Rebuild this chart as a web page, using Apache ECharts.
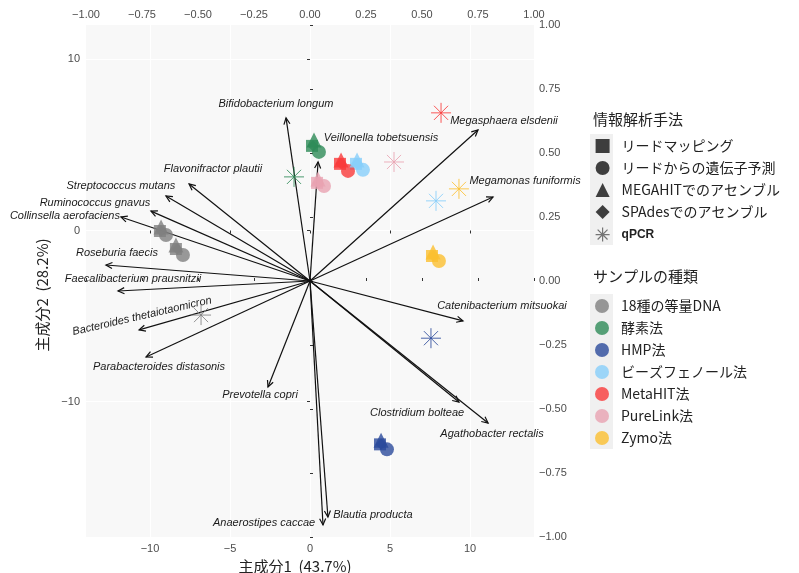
<!DOCTYPE html>
<html><head><meta charset="utf-8">
<script src="https://cdn.jsdelivr.net/npm/echarts@6/dist/echarts.min.js"></script>
<style>html,body{margin:0;padding:0;background:#fff}#c{width:799px;height:573px}</style>
</head><body><div id="c"></div><script>
// ---- species loadings (secondary axes) ----
const speciesNames = ['Bifidobacterium longum','Veillonella tobetsuensis','Flavonifractor plautii','Streptococcus mutans','Ruminococcus gnavus','Collinsella aerofaciens','Roseburia faecis','Faecalibacterium prausnitzii','Bacteroides thetaiotaomicron','Parabacteroides distasonis','Prevotella copri','Anaerostipes caccae','Blautia producta','Megasphaera elsdenii','Megamonas funiformis','Catenibacterium mitsuokai','Clostridium bolteae','Agathobacter rectalis'];
const loadingPC1 = [-0.107,0.036,-0.540,-0.643,-0.710,-0.844,-0.911,-0.857,-0.763,-0.732,-0.1875,0.058,0.080,0.750,0.817,0.683,0.665,0.795];
const loadingPC2 = [0.637,0.465,0.379,0.332,0.273,0.250,0.0625,-0.039,-0.191,-0.297,-0.414,-0.953,-0.922,0.590,0.328,-0.156,-0.473,-0.555];
const labelPC1 = [-0.152,0.317,-0.433,-0.844,-0.960,-1.094,-0.862,-0.790,-0.750,-0.674,-0.223,-0.205,0.281,0.866,0.960,0.857,0.478,0.8125];
const labelPC2 = [0.691,0.559,0.4375,0.371,0.305,0.254,0.109,0.008,-0.137,-0.336,-0.445,-0.945,-0.914,0.625,0.390,-0.098,-0.516,-0.598];
const labelAngle = [0,0,0,0,0,0,0,0,13,0,0,0,0,0,0,0,0,0];

// ---- legend categories ----
const methods = ['リードマッピング','リードからの遺伝子予測','MEGAHITでのアセンブル','SPAdesでのアセンブル','qPCR'];
const samples = ['18種の等量DNA','酵素法','HMP法','ビーズフェノール法','MetaHIT法','PureLink法','Zymo法'];
const sampleColors = ['#808080','#2e8b57','#2b4a9b','#87cefa','#f93a3a','#e9a3b2','#fbbf30'];

// ---- sample scores (primary axes) ----
const pointSample = [0,0,1,2,3,4,5,6];
const squarePC1 = [-9.38,-8.38,0.125,4.375,2.875,1.875,0.44,7.625];
const squarePC2 = [-0.03,-1.08,4.94,-12.49,3.89,3.89,2.78,-1.49];
const circlePC1 = [-9.0,-7.94,0.56,4.81,3.31,2.375,0.875,8.06];
const circlePC2 = [-0.26,-1.43,4.59,-12.78,3.54,3.48,2.6,-1.78];
const trianglePC1 = [-9.31,-8.38,0.25,4.44,2.94,1.94,0.5,7.69];
const trianglePC2 = [0.20,-0.85,5.29,-12.25,4.12,4.12,3.01,-1.26];
const diamondPC1 = [-9.31,-8.31,0.19,4.44,2.94,1.94,0.5,7.69];
const diamondPC2 = [-0.03,-1.08,4.94,-12.49,3.89,3.89,2.78,-1.49];
const qpcrPC1 = [-6.81,-1.0,7.56,7.875,8.19,5.25,9.31];
const qpcrPC2 = [-4.94,3.13,-6.29,1.73,6.87,4.0,2.43];

const pc1Ticks = [-10,-5,0,5,10];
const pc2Ticks = [-10,0,10];

const STAR = 'path://M10,0L10,20M0,10L20,10M2.93,2.93L17.07,17.07M2.93,17.07L17.07,2.93';
const minus = (v, d) => (v < 0 ? '\u2212' : '') + (d == null ? String(Math.abs(v)) : Math.abs(v).toFixed(d));
const JP = '"Noto Sans CJK JP", "Noto Sans", sans-serif';
const LAT = '"Liberation Sans", Arial, sans-serif';

const chart = echarts.init(document.getElementById('c'), null, {renderer: 'canvas'});

const tickStyle = {show: true, length: 3, lineStyle: {color: '#333', width: 1}};
const labStyle = {color: '#4d4d4d', fontSize: 11, fontFamily: LAT};

function shapeSeries(name, symbol, size, xs, ys) {
  return {
    type: 'scatter', name: name + '_pts', xAxisIndex: 0, yAxisIndex: 0,
    symbol: symbol, symbolSize: size, z: 4, silent: true,
    data: xs.map((x, i) => ({value: [x, ys[i]], itemStyle: {color: sampleColors[pointSample[i]]}}))
  };
}

const series = [
  {
    type: 'custom', name: 'arrows', xAxisIndex: 1, yAxisIndex: 1, silent: true, z: 3,
    data: loadingPC1.map((x, i) => [x, loadingPC2[i]]),
    encode: {x: 0, y: 1},
    renderItem: function (params, api) {
      const o = api.coord([0, 0]);
      const t = api.coord([api.value(0), api.value(1)]);
      const ang = Math.atan2(t[1] - o[1], t[0] - o[0]);
      const L = 7, A = Math.PI / 7;
      const p1 = [t[0] - L * Math.cos(ang - A), t[1] - L * Math.sin(ang - A)];
      const p2 = [t[0] - L * Math.cos(ang + A), t[1] - L * Math.sin(ang + A)];
      return {type: 'group', children: [
        {type: 'line', shape: {x1: o[0], y1: o[1], x2: t[0], y2: t[1]}, style: {stroke: '#111', lineWidth: 1.2}},
        {type: 'polyline', shape: {points: [p1, t, p2]}, style: {stroke: '#111', lineWidth: 1.2, fill: null}}
      ]};
    }
  },
  {
    type: 'custom', name: 'labels', xAxisIndex: 1, yAxisIndex: 1, silent: true, z: 5, clip: false,
    data: labelPC1.map((x, i) => [x, labelPC2[i]]),
    encode: {x: 0, y: 1},
    renderItem: function (params, api) {
      const i = params.dataIndex;
      const p = api.coord([api.value(0), api.value(1)]);
      return {type: 'text', x: p[0], y: p[1], rotation: labelAngle[i] * Math.PI / 180,
        style: {text: speciesNames[i], font: 'italic 11px ' + LAT, fill: '#1a1a1a', align: 'center', verticalAlign: 'middle'}};
    }
  },
  shapeSeries('sq', 'rect', 12, squarePC1, squarePC2),
  shapeSeries('ci', 'circle', 14, circlePC1, circlePC2),
  shapeSeries('tr', 'triangle', 15, trianglePC1, trianglePC2),
  shapeSeries('di', 'diamond', 11, diamondPC1, diamondPC2),
  {
    type: 'scatter', name: 'qpcr_pts', xAxisIndex: 0, yAxisIndex: 0, symbol: STAR, symbolSize: 20, z: 4, silent: true,
    data: qpcrPC1.map((x, i) => ({value: [x, qpcrPC2[i]], itemStyle: {color: 'rgba(0,0,0,0)', borderColor: sampleColors[i], borderWidth: 1, opacity: 0.85}}))
  }
];
// legend-only series
const methodSymbols = ['rect', 'circle', 'triangle', 'diamond', STAR];
methods.forEach((m, i) => {
  series.push({type: 'scatter', name: m, data: [], symbol: methodSymbols[i],
    itemStyle: i === 4 ? {color: 'rgba(0,0,0,0)', borderColor: '#555', borderWidth: 1.2} : {color: '#111'}});
});
samples.forEach((s, i) => {
  series.push({type: 'scatter', name: s, data: [], symbol: 'circle', itemStyle: {color: sampleColors[i]}});
});

const option = {
  backgroundColor: '#fff',
  animation: false,
  title: [
    {text: '情報解析手法', left: 588, top: 107, textStyle: {fontSize: 15, fontWeight: 'normal', color: '#222', fontFamily: JP}},
    {text: 'サンプルの種類', left: 588, top: 264, textStyle: {fontSize: 15, fontWeight: 'normal', color: '#222', fontFamily: JP}}
  ],
  graphic: [
    {type: 'rect', z: 0, shape: {x: 590, y: 134, width: 23, height: 111}, style: {fill: '#f0f0f0'}},
    {type: 'rect', z: 0, shape: {x: 590, y: 294, width: 23, height: 155}, style: {fill: '#f0f0f0'}}
  ],
  legend: [
    {
      orient: 'vertical', left: 590, top: 134, itemWidth: 14, itemHeight: 14, itemGap: 8,
      textStyle: {fontSize: 14, color: '#222', fontFamily: JP, padding: [0, 0, 0, 7]},
      selectedMode: false,
      data: methods.map((m, i) => i === 4
        ? {name: m, itemStyle: {color: 'rgba(0,0,0,0)', borderColor: '#555', borderWidth: 1.2}, textStyle: {fontSize: 12, fontWeight: 'bold', fontFamily: LAT, padding: [0, 0, 0, 7]}}
        : {name: m})
    },
    {
      orient: 'vertical', left: 590, top: 294, itemWidth: 14, itemHeight: 14, itemGap: 8,
      textStyle: {fontSize: 14, color: '#222', fontFamily: JP, padding: [0, 0, 0, 7]},
      selectedMode: false,
      data: samples
    }
  ],
  grid: {left: 86, right: 265, top: 25, bottom: 36, show: true, backgroundColor: '#f8f8f8', borderWidth: 0, outerBoundsMode: 'none'},
  xAxis: [
    {type: 'value', position: 'bottom', min: -14, max: 14,
      axisLine: {show: false}, axisTick: Object.assign({customValues: pc1Ticks}, tickStyle),
      axisLabel: Object.assign({customValues: pc1Ticks, margin: 6, formatter: v => minus(v)}, labStyle),
      splitLine: {show: true, lineStyle: {color: '#ffffff', width: 1}},
      name: '主成分1  (43.7%)', nameLocation: 'middle', nameGap: 19,
      nameTextStyle: {fontSize: 15, color: '#222', fontFamily: JP, padding: [0, 30, 0, 0]}},
    {type: 'value', position: 'top', min: -1, max: 1, interval: 0.25,
      axisLine: {show: false}, axisTick: tickStyle,
      axisLabel: Object.assign({margin: 5, formatter: v => minus(v, 2)}, labStyle),
      splitLine: {show: false}}
  ],
  yAxis: [
    {type: 'value', position: 'left', min: -17.9, max: 12,
      axisLine: {show: false}, axisTick: Object.assign({customValues: pc2Ticks}, tickStyle),
      axisLabel: Object.assign({customValues: pc2Ticks, margin: 6, formatter: v => minus(v)}, labStyle),
      splitLine: {show: true, lineStyle: {color: '#ffffff', width: 1}},
      name: '主成分2  (28.2%)', nameLocation: 'middle', nameGap: 36, nameRotate: 90,
      nameTextStyle: {fontSize: 15, color: '#222', fontFamily: JP, padding: [0, 28, 0, 0]}},
    {type: 'value', position: 'right', min: -1, max: 1, interval: 0.25,
      axisLine: {show: false}, axisTick: tickStyle,
      axisLabel: Object.assign({margin: 5, formatter: v => minus(v, 2)}, labStyle),
      splitLine: {show: false}}
  ],
  series: series
};
chart.setOption(option);
</script></body></html>
